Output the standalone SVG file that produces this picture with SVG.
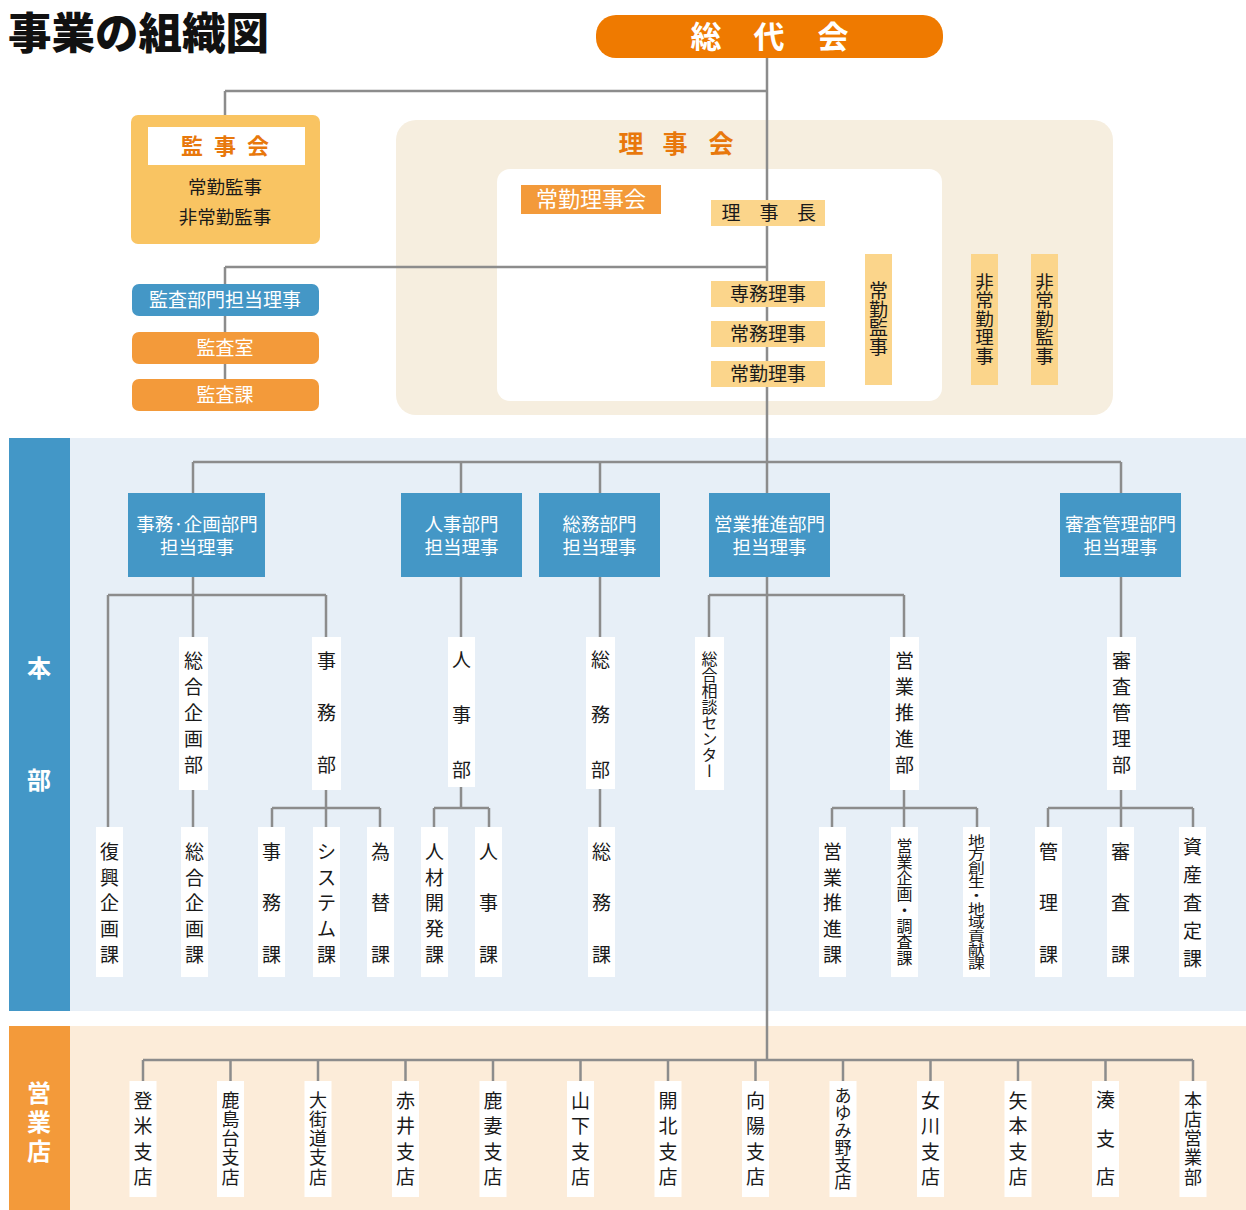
<svg xmlns="http://www.w3.org/2000/svg" width="1246" height="1210" viewBox="0 0 1246 1210">
<style>
.f{font-family:"Noto Sans CJK JP","Noto Sans",sans-serif;text-anchor:middle}
.k{fill:#1a1a1a}
.w{fill:#fff}
.o{fill:#e8780c}
.b{font-weight:700}
.s15{font-size:15px}.s16{font-size:16px}.s17{font-size:17px}.s18{font-size:18px}.s185{font-size:18.5px}.s19{font-size:19px}.s22{font-size:22px}.s24{font-size:24px}.s25{font-size:25px}.s31{font-size:31px}
.ln{stroke:#8c8c8c;stroke-width:2.5;fill:none}
.wb{fill:#fff}
.yb{fill:#fbd58b}
.bb{fill:#4497c6}
.ob{fill:#f39a3a}
.vr{writing-mode:vertical-rl}
</style>

<!-- backgrounds -->
<g id="bands">
<rect x="9" y="438" width="61" height="573" fill="#4397c7"/>
<rect x="70" y="438" width="1176" height="573" fill="#e7eff7"/>
<rect x="9" y="1026" width="61" height="184" fill="#f39a3a"/>
<rect x="70" y="1026" width="1176" height="184" fill="#fcecd9"/>
<text class="f w b s24" x="39" y="676.6">本</text>
<text class="f w b s24" x="39" y="788.6">部</text>
<text class="f w b s24" x="39 39 39" y="1101.6 1130.6 1159.6">営業店</text>
</g>
<g id="rijikai-panel">
<rect x="396" y="120" width="717" height="295" rx="20" fill="#f6eedf"/>
<rect x="497" y="169" width="445" height="232" rx="13" fill="#fff"/>
<text class="f o b s25" x="631 675 721" y="153">理事会</text>
</g>

<text x="8" y="48.5" style="font-family:'Noto Sans CJK JP','Noto Sans',sans-serif;font-size:43.5px;font-weight:900" fill="#111">事業の組織図</text>

<!-- connectors -->
<g id="connectors" class="ln">
<path d="M767 57V1060"/>
<path d="M225 91H767M225 91V115"/>
<path d="M225 267H767M225 267V395"/>
<path d="M193 462H1121M193 462V827M461 462V808M600 462V827M1121 462V827"/>
<path d="M108 595H326M108 595V827M326 595V827"/>
<path d="M272 808H380M272 808V827M380 808V827"/>
<path d="M434 808H489M434 808V827M489 808V827"/>
<path d="M709 595H904M709 595V637M904 595V827"/>
<path d="M832 808H977M832 808V827M977 808V827"/>
<path d="M1048 808H1193M1048 808V827M1193 808V827"/>
<path d="M143 1060H1193M143 1060V1081M230.5 1060V1081M318 1060V1081M405.5 1060V1081M493 1060V1081M580.5 1060V1081M668 1060V1081M755.5 1060V1081M843 1060V1081M930.5 1060V1081M1018 1060V1081M1105.5 1060V1081M1193 1060V1081"/>
</g>

<!-- top -->
<g id="soudaikai">
<rect x="596" y="15" width="347" height="43" rx="20" fill="#ef7a00"/>
<text class="f w b s31" x="706 769 833" y="48">総代会</text>
</g>
<g id="kanjikai">
<rect x="131" y="115" width="189" height="129" rx="7" fill="#f9c462"/>
<rect x="148" y="127" width="157" height="38" class="wb"/>
<text class="f o b s22" x="192 225 258" y="153.9">監事会</text>
<text class="f k s185" x="225" y="193.6">常勤監事</text>
<text class="f k s185" x="225" y="223.6">非常勤監事</text>
</g>
<g id="kansa-riji">
<rect x="132" y="284" width="187" height="32" rx="7" class="bb"/>
<text class="f w s19" x="225" y="306.8">監査部門担当理事</text>
</g>
<g id="kansashitsu">
<rect x="132" y="332" width="187" height="32" rx="7" class="ob"/>
<text class="f w s19" x="225" y="354.8">監査室</text>
</g>
<g id="kansaka">
<rect x="132" y="379" width="187" height="32" rx="7" class="ob"/>
<text class="f w s19" x="225" y="401.8">監査課</text>
</g>
<g id="joukin-rijikai">
<rect x="521" y="185" width="140" height="29" class="ob"/>
<text class="f w s22" x="591" y="207.4">常勤理事会</text>
</g>
<g id="rijichou">
<rect x="711" y="200" width="114" height="26" class="yb"/>
<text class="f k s19" x="731 769 806.5" y="219.8">理事長</text>
</g>
<g id="senmu">
<rect x="711" y="281" width="114" height="26" class="yb"/>
<text class="f k s19" x="768" y="300.8">専務理事</text>
</g>
<g id="joumu">
<rect x="711" y="321" width="114" height="26" class="yb"/>
<text class="f k s19" x="768" y="340.8">常務理事</text>
</g>
<g id="joukin-riji">
<rect x="711" y="361" width="114" height="26" class="yb"/>
<text class="f k s19" x="768" y="380.8">常勤理事</text>
</g>
<g id="joukin-kanji">
<rect x="865" y="254" width="27" height="131" class="yb"/>
<text class="f k s19" x="878.5 878.5 878.5 878.5" y="297.8 316.8 335.3 353.8">常勤監事</text>
</g>
<g id="hijoukin-riji">
<rect x="971" y="254" width="27" height="131" class="yb"/>
<text class="f k s185" x="984.5 984.5 984.5 984.5 984.5" y="288.6 307.1 325.6 344.1 362.6">非常勤理事</text>
</g>
<g id="hijoukin-kanji">
<rect x="1031" y="254" width="27" height="131" class="yb"/>
<text class="f k s185" x="1044.5 1044.5 1044.5 1044.5 1044.5" y="288.6 307.1 325.6 344.1 362.6">非常勤監事</text>
</g>

<!-- department heads -->
<g id="dept-jimu">
<rect x="128" y="493" width="137" height="84" class="bb"/>
<text class="f w s185"><tspan x="197" y="530.6">事務·企画部門</tspan><tspan x="197" y="553.6">担当理事</tspan></text>
</g>
<g id="dept-jinji">
<rect x="401" y="493" width="121" height="84" class="bb"/>
<text class="f w s185"><tspan x="461.5" y="530.6">人事部門</tspan><tspan x="461.5" y="553.6">担当理事</tspan></text>
</g>
<g id="dept-soumu">
<rect x="539" y="493" width="121" height="84" class="bb"/>
<text class="f w s185"><tspan x="599.5" y="530.6">総務部門</tspan><tspan x="599.5" y="553.6">担当理事</tspan></text>
</g>
<g id="dept-eigyo">
<rect x="709" y="493" width="121" height="84" class="bb"/>
<text class="f w s185"><tspan x="769.5" y="530.6">営業推進部門</tspan><tspan x="769.5" y="553.6">担当理事</tspan></text>
</g>
<g id="dept-shinsa">
<rect x="1060" y="493" width="121" height="84" class="bb"/>
<text class="f w s185"><tspan x="1120.5" y="530.6">審査管理部門</tspan><tspan x="1120.5" y="553.6">担当理事</tspan></text>
</g>

<!-- bu level -->
<g id="sougou-kikaku-bu">
<rect x="179" y="637" width="29" height="153" class="wb"/>
<text class="f k s19" x="193.5 193.5 193.5 193.5 193.5" y="667.8 693.8 719.8 745.8 771.8">総合企画部</text>
</g>
<g id="jimu-bu">
<rect x="312" y="637" width="29" height="153" class="wb"/>
<text class="f k s19" x="326.5 326.5 326.5" y="667.8 719.8 771.8">事務部</text>
</g>
<g id="jinji-bu">
<rect x="448" y="637" width="27" height="150" class="wb"/>
<text class="f k s19" x="461.5 461.5 461.5" y="666.8 721.8 776.8">人事部</text>
</g>
<g id="soumu-bu">
<rect x="586" y="637" width="29" height="152" class="wb"/>
<text class="f k s19" x="600.5 600.5 600.5" y="666.8 721.8 776.8">総務部</text>
</g>
<g id="soudan-center">
<rect x="695" y="637" width="29" height="153" class="wb"/>
<text class="f k s16 vr" x="709.5" y="715">総合相談センター</text>
</g>
<g id="eigyo-suishin-bu">
<rect x="890" y="637" width="29" height="153" class="wb"/>
<text class="f k s19" x="904.5 904.5 904.5 904.5 904.5" y="667.8 693.8 719.8 745.8 771.8">営業推進部</text>
</g>
<g id="shinsa-kanri-bu">
<rect x="1107" y="637" width="29" height="153" class="wb"/>
<text class="f k s19" x="1121.5 1121.5 1121.5 1121.5 1121.5" y="667.8 693.8 719.8 745.8 771.8">審査管理部</text>
</g>

<!-- ka level -->
<g id="fukkou-kikaku-ka">
<rect x="96" y="827" width="27" height="150" class="wb"/>
<text class="f k s19" x="109.5 109.5 109.5 109.5 109.5" y="858.8 884.8 909.8 935.8 961.8">復興企画課</text>
</g>
<g id="sougou-kikaku-ka">
<rect x="181" y="827" width="27" height="150" class="wb"/>
<text class="f k s19" x="194.5 194.5 194.5 194.5 194.5" y="858.8 884.8 909.8 935.8 961.8">総合企画課</text>
</g>
<g id="jimu-ka">
<rect x="258" y="827" width="27" height="150" class="wb"/>
<text class="f k s19" x="271.5 271.5 271.5" y="858.8 909.8 961.8">事務課</text>
</g>
<g id="system-ka">
<rect x="313" y="827" width="27" height="150" class="wb"/>
<text class="f k s19" x="326.5 326.5 326.5 326.5 326.5" y="858.8 884.8 909.8 935.8 961.8">システム課</text>
</g>
<g id="kawase-ka">
<rect x="367" y="827" width="27" height="150" class="wb"/>
<text class="f k s19" x="380.5 380.5 380.5" y="858.8 909.8 961.8">為替課</text>
</g>
<g id="jinzai-ka">
<rect x="421" y="827" width="27" height="150" class="wb"/>
<text class="f k s19" x="434.5 434.5 434.5 434.5 434.5" y="858.8 884.8 909.8 935.8 961.8">人材開発課</text>
</g>
<g id="jinji-ka">
<rect x="475" y="827" width="27" height="150" class="wb"/>
<text class="f k s19" x="488.5 488.5 488.5" y="858.8 909.8 961.8">人事課</text>
</g>
<g id="soumu-ka">
<rect x="588" y="827" width="27" height="150" class="wb"/>
<text class="f k s19" x="601.5 601.5 601.5" y="858.8 909.8 961.8">総務課</text>
</g>
<g id="eigyo-suishin-ka">
<rect x="819" y="827" width="27" height="150" class="wb"/>
<text class="f k s19" x="832.5 832.5 832.5 832.5 832.5" y="858.8 884.8 909.8 935.8 961.8">営業推進課</text>
</g>
<g id="eigyo-kikaku-ka">
<rect x="891" y="827" width="27" height="150" class="wb"/>
<text class="f k s16" x="904.5 904.5 904.5 904.5 904.5 904.5 904.5 904.5" y="851.8 867.8 883.8 899.8 915.8 931.8 947.8 963.8">営業企画・調査課</text>
</g>
<g id="chihou-ka">
<rect x="963" y="827" width="27" height="150" class="wb"/>
<g transform="translate(976.5 902.2) scale(1.12 0.88)">
<text class="f k s15" x="0 0 0 0 0 0 0 0 0 0" y="-64.15 -48.7 -33.24 -17.79 -2.33 13.12 28.58 44.03 59.49 74.94">地方創生・地域貢献課</text>
</g>
</g>
<g id="kanri-ka">
<rect x="1035" y="827" width="27" height="150" class="wb"/>
<text class="f k s19" x="1048.5 1048.5 1048.5" y="858.8 909.8 961.8">管理課</text>
</g>
<g id="shinsa-ka">
<rect x="1107" y="827" width="27" height="150" class="wb"/>
<text class="f k s19" x="1120.5 1120.5 1120.5" y="858.8 909.8 961.8">審査課</text>
</g>
<g id="shisan-ka">
<rect x="1179" y="827" width="27" height="150" class="wb"/>
<text class="f k s19" x="1192.5 1192.5 1192.5 1192.5 1192.5" y="853.8 881.8 909.8 937.8 965.8">資産査定課</text>
</g>

<!-- branches -->
<g id="br-toyoma"><rect x="129.5" y="1081" width="27" height="116" class="wb"/>
<text class="f k s19" x="143 143 143 143" y="1107.8 1133.3 1158.8 1183.8">登米支店</text></g>
<g id="br-kashimadai"><rect x="217" y="1081" width="27" height="116" class="wb"/>
<text class="f k s18" x="230.5 230.5 230.5 230.5 230.5" y="1106.5 1125.75 1145 1164.25 1183.5">鹿島台支店</text></g>
<g id="br-oomachi"><rect x="304.5" y="1081" width="27" height="116" class="wb"/>
<text class="f k s18" x="318 318 318 318 318" y="1106.5 1125.75 1145 1164.25 1183.5">大街道支店</text></g>
<g id="br-akai"><rect x="392" y="1081" width="27" height="116" class="wb"/>
<text class="f k s19" x="405.5 405.5 405.5 405.5" y="1107.8 1133.3 1158.8 1183.8">赤井支店</text></g>
<g id="br-kazuma"><rect x="479.5" y="1081" width="27" height="116" class="wb"/>
<text class="f k s19" x="493 493 493 493" y="1107.8 1133.3 1158.8 1183.8">鹿妻支店</text></g>
<g id="br-yamashita"><rect x="567" y="1081" width="27" height="116" class="wb"/>
<text class="f k s19" x="580.5 580.5 580.5 580.5" y="1107.8 1133.3 1158.8 1183.8">山下支店</text></g>
<g id="br-kaihoku"><rect x="654.5" y="1081" width="27" height="116" class="wb"/>
<text class="f k s19" x="668 668 668 668" y="1107.8 1133.3 1158.8 1183.8">開北支店</text></g>
<g id="br-kouyou"><rect x="742" y="1081" width="27" height="116" class="wb"/>
<text class="f k s19" x="755.5 755.5 755.5 755.5" y="1107.8 1133.3 1158.8 1183.8">向陽支店</text></g>
<g id="br-ayumino"><rect x="829.5" y="1081" width="27" height="116" class="wb"/>
<text class="f k s17" x="843 843 843 843 843 843" y="1102.1 1119.3 1136.5 1153.7 1170.9 1188.1">あゆみ野支店</text></g>
<g id="br-onagawa"><rect x="917" y="1081" width="27" height="116" class="wb"/>
<text class="f k s19" x="930.5 930.5 930.5 930.5" y="1107.8 1133.3 1158.8 1183.8">女川支店</text></g>
<g id="br-yamoto"><rect x="1004.5" y="1081" width="27" height="116" class="wb"/>
<text class="f k s19" x="1018 1018 1018 1018" y="1107.8 1133.3 1158.8 1183.8">矢本支店</text></g>
<g id="br-minato"><rect x="1092" y="1081" width="27" height="116" class="wb"/>
<text class="f k s19" x="1105.5 1105.5 1105.5" y="1106.8 1145.8 1183.8">湊支店</text></g>
<g id="br-honten"><rect x="1179.5" y="1081" width="27" height="116" class="wb"/>
<text class="f k s18" x="1193 1193 1193 1193 1193" y="1106.5 1125.75 1145 1164.25 1183.5">本店営業部</text></g>
</svg>
